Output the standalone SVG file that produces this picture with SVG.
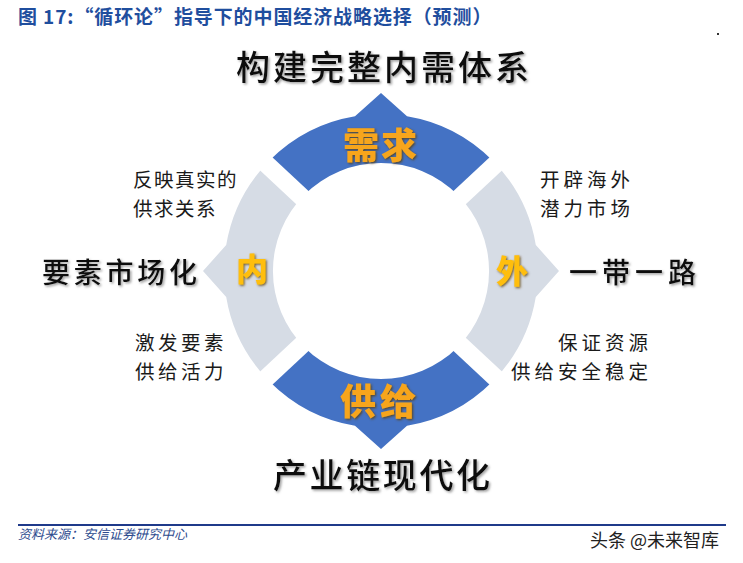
<svg xmlns="http://www.w3.org/2000/svg" width="743" height="563" viewBox="0 0 743 563">
  <defs>
    <filter id="shadow" x="-20%" y="-20%" width="140%" height="140%">
      <feDropShadow dx="1.5" dy="1.5" stdDeviation="1" flood-color="#777" flood-opacity="0.7"/>
    </filter>
    <filter id="shadowDark" x="-20%" y="-20%" width="140%" height="140%">
      <feDropShadow dx="1.2" dy="1.2" stdDeviation="0.8" flood-color="#5a3a00" flood-opacity="0.8"/>
    </filter>
    <style>
      .cjk { font-family: "Noto Sans CJK SC", "Noto Sans", sans-serif; }
      .title { font-size: 19px; font-weight: 700; fill: #1F4E9E; }
      .big { font-size: 34px; font-weight: 500; fill: #111; filter: url(#shadow); }
      .mid { font-size: 28px; font-weight: 500; fill: #111; filter: url(#shadow); }
      .small { font-size: 19.5px; font-weight: 400; fill: #1a1a1a; }
      .seg-blue { fill: #4472C4; }
      .seg-grey { fill: #D6DCE5; }
      .onblue { font-size: 36px; font-weight: 900; fill: #F7A51C; filter: url(#shadowDark); }
      .ongrey { font-size: 32px; font-weight: 900; fill: #FFBE0B; filter: url(#shadowDark); }
      .gap { stroke: #FFFFFF; stroke-width: 18; }
    </style>
  </defs>
  <rect width="743" height="563" fill="#FFFFFF"/>

  <g id="title">
    <text class="cjk title" x="18" y="24" letter-spacing="0.9">图 17:“循环论”指导下的中国经济战略选择（预测）</text>
    <rect x="717" y="33" width="2" height="2" fill="#333"/>
  </g>

  <g id="ring">
    <g id="seg-demand">
      <path class="seg-blue" d="M 270,160 A 157 157 0 0 1 355,116.2 L 381,93 L 407,116.2 A 157 157 0 0 1 492,160 L 457.4,194.6 A 108 108 0 0 0 304.6,194.6 Z"/>
      <text class="cjk onblue" x="343" y="159" letter-spacing="2">需求</text>
    </g>
    <g id="seg-supply">
      <path class="seg-blue" d="M 270,382 A 157 157 0 0 0 355,425.8 L 381,449 L 407,425.8 A 157 157 0 0 0 492,382 L 457.4,347.4 A 108 108 0 0 1 304.6,347.4 Z"/>
      <text class="cjk onblue" x="340" y="415" letter-spacing="4">供给</text>
    </g>
    <g id="seg-inner">
      <path class="seg-grey" d="M 270,160 A 157 157 0 0 0 226.2,245 L 203,271 L 226.2,297 A 157 157 0 0 0 270,382 L 304.6,347.4 A 108 108 0 0 1 304.6,194.6 Z"/>
      <text class="cjk ongrey" x="252" y="281" text-anchor="middle">内</text>
    </g>
    <g id="seg-outer">
      <path class="seg-grey" d="M 492,160 A 157 157 0 0 1 535.8,245 L 559,271 L 535.8,297 A 157 157 0 0 1 492,382 L 457.4,347.4 A 108 108 0 0 0 457.4,194.6 Z"/>
      <text class="cjk ongrey" x="512" y="283" text-anchor="middle">外</text>
    </g>
    <g id="gaps">
      <line class="gap" x1="450.5" y1="206.2" x2="510" y2="150.7"/>
      <line class="gap" x1="311.5" y1="206.2" x2="252" y2="150.7"/>
      <line class="gap" x1="450.5" y1="335.8" x2="510" y2="391.3"/>
      <line class="gap" x1="311.5" y1="335.8" x2="252" y2="391.3"/>
    </g>
  </g>

  <g id="label-top">
    <text class="cjk big" x="236" y="80" letter-spacing="3">构建完整内需体系</text>
  </g>
  <g id="label-bottom">
    <text class="cjk big" x="273" y="488" letter-spacing="2.6">产业链现代化</text>
  </g>
  <g id="label-left">
    <text class="cjk mid" x="42" y="283" letter-spacing="3.75">要素市场化</text>
  </g>
  <g id="label-right">
    <text class="cjk mid" x="569" y="283" letter-spacing="5">一带一路</text>
  </g>

  <g id="note-top-left">
    <text class="cjk small" x="133" y="187" letter-spacing="1.5">反映真实的</text>
    <text class="cjk small" x="133" y="215.5" letter-spacing="1.5">供求关系</text>
  </g>
  <g id="note-top-right">
    <text class="cjk small" x="540" y="187" letter-spacing="4">开辟海外</text>
    <text class="cjk small" x="540" y="215.5" letter-spacing="4">潜力市场</text>
  </g>
  <g id="note-bottom-left">
    <text class="cjk small" x="135" y="350" letter-spacing="3.5">激发要素</text>
    <text class="cjk small" x="135" y="378.5" letter-spacing="3.5">供给活力</text>
  </g>
  <g id="note-bottom-right">
    <text class="cjk small" x="652" y="350" letter-spacing="4" text-anchor="end">保证资源</text>
    <text class="cjk small" x="652" y="378.5" letter-spacing="4" text-anchor="end">供给安全稳定</text>
  </g>

  <g id="footer">
    <line x1="18" y1="525" x2="726" y2="525" stroke="#1F3A8A" stroke-width="2"/>
    <text class="cjk" x="18" y="539" font-size="13" font-style="italic" fill="#2D4B8E">资料来源：安信证券研究中心</text>
    <text class="cjk" x="590" y="547" font-size="18" fill="#222">头条 @未来智库</text>
  </g>
</svg>
